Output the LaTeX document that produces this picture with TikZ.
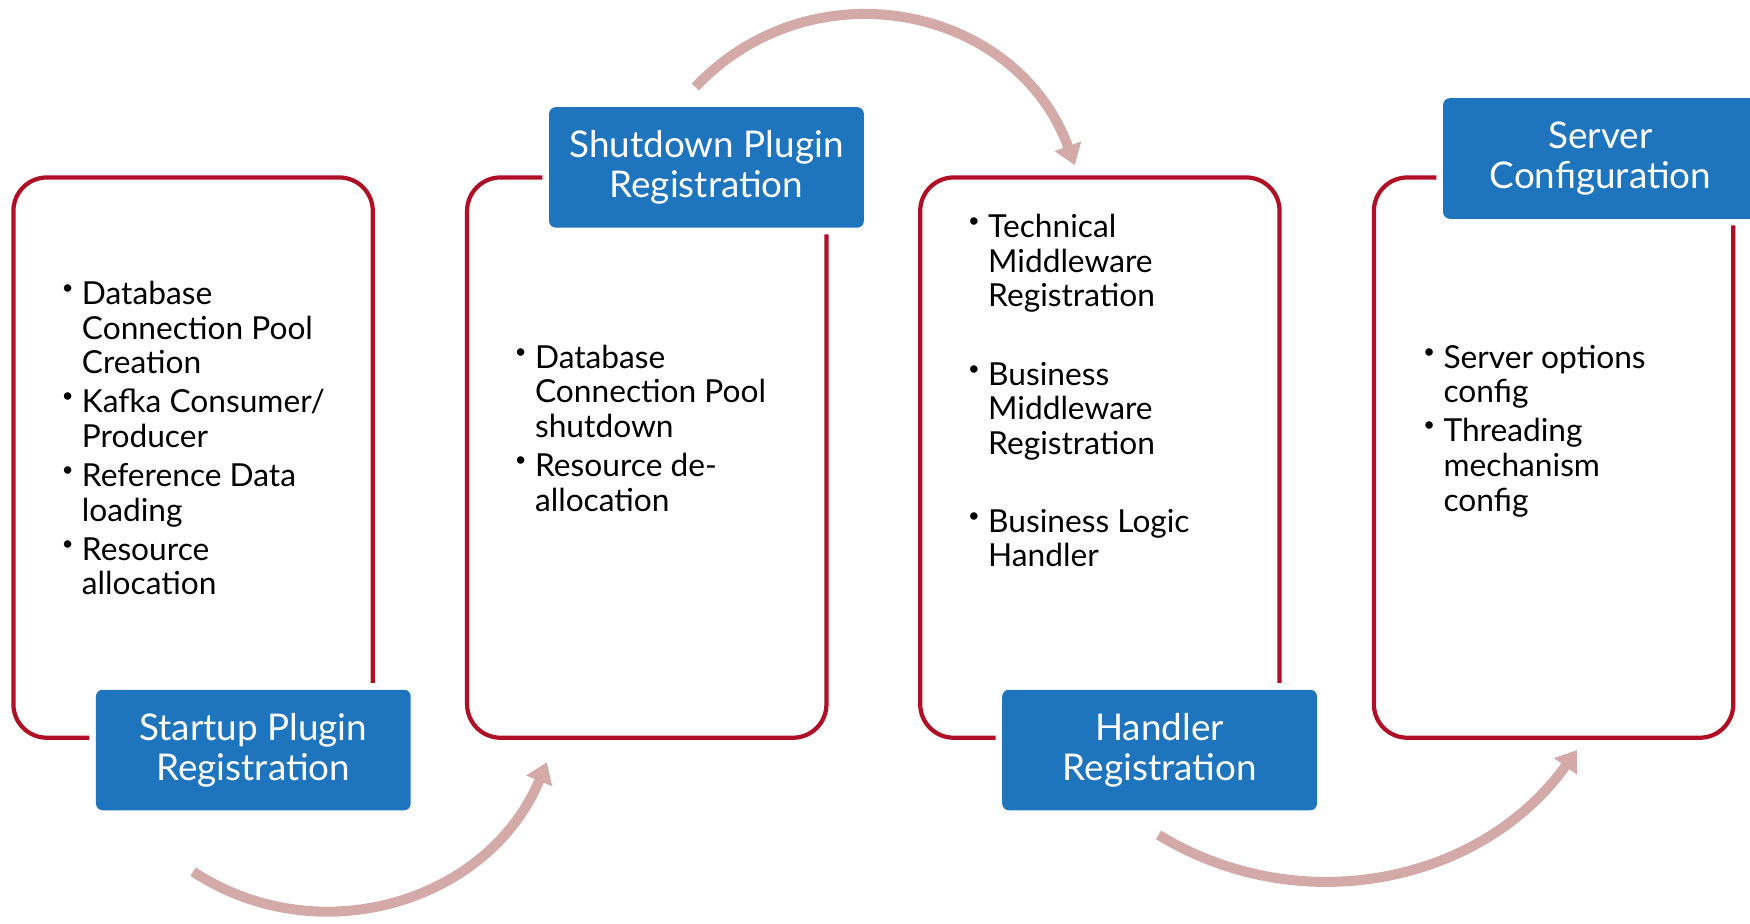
\documentclass[tikz,border=0pt]{standalone}
\usepackage{fontspec}
\setmainfont{Lato}
\usetikzlibrary{arrows.meta}
\definecolor{framered}{HTML}{B01026}
\definecolor{stageblue}{HTML}{1E75BD}
\definecolor{arrowpink}{HTML}{D4AAA9}
\newcommand{\bul}{\raisebox{4.5pt}{\fontsize{9}{9}\selectfont\textbullet}}
\begin{document}
\begin{tikzpicture}[x=0.5pt,y=-0.5pt,
    stageframe/.style={draw=framered, line width=1.9pt, rounded corners=15pt,
        minimum width=161pt, minimum height=251pt, inner sep=0pt},
    stagetitle/.style={fill=stageblue, text=white, rounded corners=3pt,
        minimum width=141pt, minimum height=54pt, inner sep=0pt, align=center,
        font=\fontsize{16.5}{18}\selectfont, preaction={draw=white, line width=6pt}},
    stageitems/.style={anchor=base west, inner sep=0pt, font=\fontsize{14.2}{15.5}\selectfont},
    cyclearrow/.style={draw=arrowpink, line width=4.5pt, -{Triangle[length=9pt,width=12pt]}}]
    \useasboundingbox (0,0) rectangle (1568,827);
    % frames
    \node [stageframe] (f1) at (173,410) {};
    \node [stageframe] (f2) at (579.5,410) {};
    \node [stageframe] (f3) at (985.5,410) {};
    \node [stageframe] (f4) at (1392,410) {};
    % titles
    \node [stagetitle] (t1) at (227,672) {Startup Plugin\\Registration};
    \node [stagetitle] (t2) at (633,150) {Shutdown Plugin\\Registration};
    \node [stagetitle] (t3) at (1039,672) {Handler\\Registration};
    \node [stagetitle] (t4) at (1434,142) {Server\\Configuration};
    % bullet lists
    \node [stageitems] (l1) at (55,273) {\begin{tabular}[t]{@{}p{9pt}@{}l@{}}
        \bul & Database\\ & Connection Pool\\ & Creation\\[2pt]
        \bul & Kafka Consumer/\\ & Producer\\[2pt]
        \bul & Reference Data\\ & loading\\[2pt]
        \bul & Resource\\ & allocation
        \end{tabular}};
    \node [stageitems] (l2) at (461,330) {\begin{tabular}[t]{@{}p{9pt}@{}l@{}}
        \bul & Database\\ & Connection Pool\\ & shutdown\\[2pt]
        \bul & Resource de-\\ & allocation
        \end{tabular}};
    \node [stageitems] (l3) at (867,213) {\begin{tabular}[t]{@{}p{9pt}@{}l@{}}
        \bul & Technical\\ & Middleware\\ & Registration\\[19.5pt]
        \bul & Business\\ & Middleware\\ & Registration\\[19.5pt]
        \bul & Business Logic\\ & Handler
        \end{tabular}};
    \node [stageitems] (l4) at (1275,330) {\begin{tabular}[t]{@{}p{9pt}@{}l@{}}
        \bul & Server options\\ & config\\[2pt]
        \bul & Threading\\ & mechanism\\ & config
        \end{tabular}};
    % arrows
    \coordinate (a1s) at (173,781);
    \coordinate (a1e) at (490,683);
    \coordinate (a2s) at (623,78);
    \coordinate (a2e) at (963,148);
    \coordinate (a3s) at (1038,748);
    \coordinate (a3e) at (1413,672);
    \draw [cyclearrow] (a1s) .. controls (286,855) and (438,808) .. (a1e);
    \draw [cyclearrow] (a2s) .. controls (728,-33) and (911,5) .. (a2e);
    \draw [cyclearrow] (a3s) .. controls (1164,825) and (1327,792) .. (a3e);
\end{tikzpicture}
\end{document}
